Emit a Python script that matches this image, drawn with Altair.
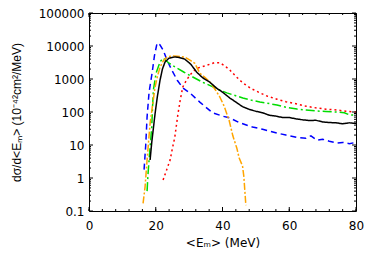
import altair as alt
import pandas as pd

# ---- data ----
black_E = [18.3, 18.8, 19.4, 19.8, 20.5, 21.3, 22.0, 22.8, 24.0, 25.7, 27.0, 28.7, 30.5, 32.3, 34.0, 36.2, 38.3,
           40.0, 42.2, 44.0, 46.0, 48.0, 50.0, 52.0, 54.0, 56.0, 58.0, 60.0, 62.0, 64.0, 66.0, 68.0, 70.0, 72.0,
           74.0, 76.0, 78.0, 80.0]
black_v = [3.5, 12, 40, 90, 300, 940, 2000, 3300, 4300, 4650, 4500, 4000, 2800, 1600, 1100, 800, 520,
           400, 265, 200, 145, 120, 105, 95, 80, 75, 68, 68, 62, 58, 55, 56, 50, 48,
           47, 44, 47, 45]

blue_E = [16.5, 17.0, 17.4, 18.0, 18.9, 19.6, 20.4, 21.2, 22.2, 23.5, 24.8, 26.5, 28.1, 30.2, 33.2, 35.0, 37.0,
          40.0, 42.2, 45.0, 49.0, 52.0, 56.3, 59.0, 62.3, 65.0, 66.5, 68.3, 70.0, 72.0, 74.3, 76.0, 78.0, 80.0]
blue_v = [1.8, 10, 70, 400, 1500, 5000, 12300, 11000, 7600, 3500, 1860, 900, 540, 380, 200, 140, 95,
          75, 66, 48, 35, 30, 23, 20, 17, 16, 19, 14, 15, 13, 11.5, 12, 11, 12]

orange_E = [16.2, 16.8, 17.4, 18.3, 19.0, 19.8, 20.5, 21.3, 22.3, 23.4, 24.8, 26.5, 28.7, 30.5, 31.7, 33.2,
            34.8, 36.2, 38.0, 39.2, 40.5, 42.0, 43.1, 44.3, 45.0, 46.0, 46.4, 46.7, 47.0]
orange_v = [0.17, 0.54, 3.5, 45, 150, 570, 1200, 2300, 3600, 4650, 5000, 4900, 4600, 3600, 3000, 1500,
            1100, 810, 450, 285, 150, 55, 19, 8, 4, 2.3, 1.1, 0.4, 0.15]

green_E = [17.4, 17.7, 18.3, 18.8, 19.0, 19.3, 20.1, 21.3, 22.2, 24.0, 26.3, 28.5, 31.1, 34.0, 36.8, 39.0,
           41.3, 44.0, 46.1, 48.5, 51.2, 54.0, 56.3, 59.0, 62.3, 65.0, 68.3, 71.0, 74.3, 76.5, 78.1, 80.0]
green_v = [0.4, 1.4, 8.7, 35, 115, 470, 1500, 3300, 4300, 3000, 2150, 1600, 1150, 800, 600, 470,
           380, 310, 265, 230, 200, 180, 162, 140, 123, 115, 107, 104, 100, 95, 81, 80]

red_E = [22.2, 23.2, 24.3, 25.0, 25.7, 26.6, 27.3, 28.1, 29.0, 30.2, 31.4, 32.6, 35.3, 37.5, 39.2, 40.7,
         42.2, 44.0, 46.1, 48.5, 51.2, 53.5, 56.3, 59.0, 62.3, 65.0, 68.3, 71.0, 74.3, 77.0, 80.0]
red_v = [0.87, 1.7, 3.5, 8, 17, 80, 220, 570, 850, 1300, 1750, 2150, 2600, 3100, 3100, 2500,
         1870, 1200, 760, 520, 380, 300, 245, 205, 175, 150, 132, 122, 115, 105, 100]

series_names = ["blue", "red", "green", "orange", "black"]
series_colors = ["#0000ff", "#ff0000", "#00dd00", "#ffa500", "#000000"]
series_dashes = [[6, 4], [2, 3], [9, 3, 2, 3], [7, 2, 2, 2], [1, 0]]

x_major = [0, 20, 40, 60, 80]
x_minor = list(range(0, 81, 4))
y_major = [0.1, 1, 10, 100, 1000, 10000, 100000]
y_minor = [m * d for d in [0.1, 1, 10, 100, 1000, 10000] for m in range(2, 10)]

rows = []
for name, E, V in [("blue", blue_E, blue_v), ("red", red_E, red_v), ("green", green_E, green_v),
                   ("orange", orange_E, orange_v), ("black", black_E, black_v)]:
    for e, v in zip(E, V):
        rows.append({"series": name, "E": e, "v": v})
df = pd.DataFrame(rows)

W, H = 267, 198
FONT = "DejaVu Sans"
TFONT = "Liberation Sans"

xscale = alt.Scale(domain=[0, 80], nice=False, zero=False)
yscale = alt.Scale(type="log", domain=[0.1, 100000], nice=False)

lines = alt.Chart(df).mark_line(strokeWidth=1.5, clip=True).encode(
    x=alt.X("E:Q", scale=xscale,
            axis=alt.Axis(values=x_major, title="<Eₘ> (MeV)", tickSize=0, domain=False, grid=False,
                          labelPadding=9, titlePadding=6, format="d", labelFlush=False,
                          labelFont=FONT, titleFont=FONT, labelFontSize=12, titleFontSize=12,
                          labelColor="black", titleColor="black", titleFontWeight="normal")),
    y=alt.Y("v:Q", scale=yscale,
            axis=alt.Axis(values=y_major, title="dσ/d<Eₘ> (10⁻⁴²cm²/MeV)", tickSize=0, domain=False,
                          grid=False, labelPadding=5, titlePadding=15, format="~g", labelFlush=False,
                          labelFont=FONT, titleFont=TFONT, labelFontSize=12, titleFontSize=12,
                          labelColor="black", titleColor="black", titleFontWeight="normal")),
    color=alt.Color("series:N", scale=alt.Scale(domain=series_names, range=series_colors), legend=None),
    strokeDash=alt.StrokeDash("series:N", scale=alt.Scale(domain=series_names, range=series_dashes),
                              legend=None),
    detail="series:N",
)

def xticks(vals, length):
    d = pd.DataFrame({"t": vals})
    bot = alt.Chart(d).mark_rule(color="black", strokeWidth=1).encode(
        x=alt.X("t:Q", scale=xscale), y=alt.value(H), y2=alt.value(H - length))
    top = alt.Chart(d).mark_rule(color="black", strokeWidth=1).encode(
        x=alt.X("t:Q", scale=xscale), y=alt.value(0), y2=alt.value(length))
    return [bot, top]

def yticks(vals, length):
    d = pd.DataFrame({"t": vals})
    left = alt.Chart(d).mark_rule(color="black", strokeWidth=1).encode(
        y=alt.Y("t:Q", scale=yscale), x=alt.value(0), x2=alt.value(length))
    right = alt.Chart(d).mark_rule(color="black", strokeWidth=1).encode(
        y=alt.Y("t:Q", scale=yscale), x=alt.value(W - length), x2=alt.value(W))
    return [left, right]

layers = [lines] + xticks(x_minor, 2) + xticks(x_major, 4) + yticks(y_minor, 2) + yticks(y_major, 4)

chart = alt.layer(*layers).properties(
    width=W, height=H,
    background="white",
    autosize=alt.AutoSizeParams(type="none"),
    padding={"left": 81, "top": 5, "right": 12, "bottom": 45},
).configure_view(stroke="black", strokeWidth=1)

chart.save("out.html", embed_options={"renderer": "svg", "actions": False})
